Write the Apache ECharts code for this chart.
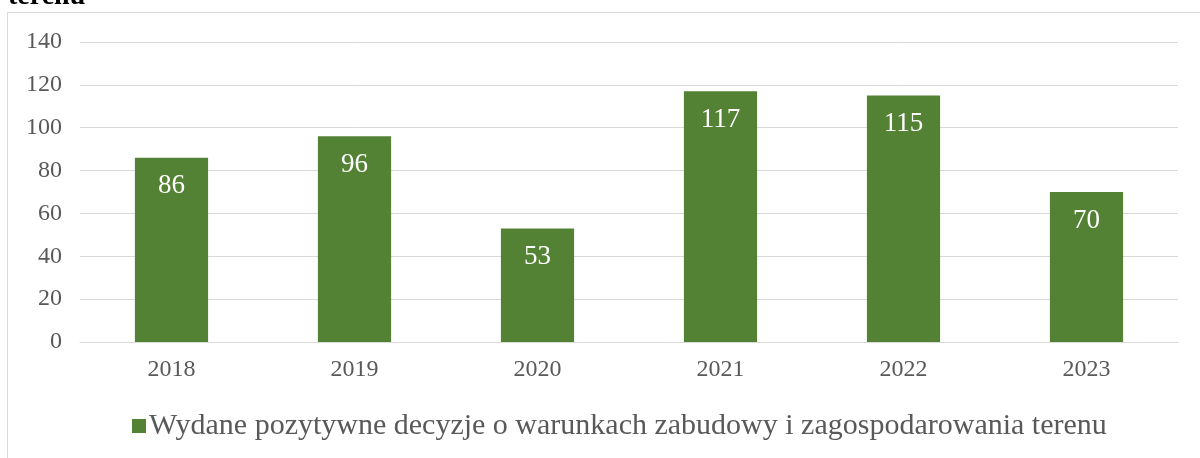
<!DOCTYPE html>
<html>
<head>
<meta charset="utf-8">
<script src="https://cdn.jsdelivr.net/npm/echarts@6/dist/echarts.min.js"></script>
<style>
  html, body { margin: 0; padding: 0; background: #fff; }
  #chart { width: 1200px; height: 458px; }
</style>
</head>
<body>
<div id="chart"></div>
<script>
// dane z wykresu
const years = ['2018', '2019', '2020', '2021', '2022', '2023'];
const decisions = [86, 96, 53, 117, 115, 70];
const seriesName = 'Wydane pozytywne decyzje o warunkach zabudowy i zagospodarowania terenu';

const serif = '"Liberation Serif", "Times New Roman", serif';

const chart = echarts.init(document.getElementById('chart'));
chart.setOption({
    animation: false,
    title: {
        text: 'terenu',
        left: 3,
        top: -22,
        textStyle: { fontFamily: serif, fontWeight: 'bold', fontSize: 28, color: '#000' }
    },
    graphic: [{
        type: 'rect',
        shape: { x: 7.5, y: 12.5, width: 1200, height: 460 },
        style: { fill: 'none', stroke: '#d9d9d9', lineWidth: 1 },
        z: -1
    }],
    grid: { left: 80, right: 22, top: 42, bottom: 116 },
    legend: {
        top: 406,
        left: 127,
        itemWidth: 14,
        itemHeight: 14,
        itemGap: 4,
        icon: 'rect',
        textStyle: { fontFamily: serif, fontSize: 30, color: '#595959', padding: [0, 0, 0, -2] },
        data: [seriesName]
    },
    xAxis: {
        type: 'category',
        data: years,
        axisLine: { lineStyle: { color: '#d9d9d9', width: 1 } },
        axisTick: { show: false },
        axisLabel: { fontFamily: serif, fontSize: 24, color: '#595959', margin: 16 }
    },
    yAxis: {
        type: 'value',
        min: 0,
        max: 140,
        interval: 20,
        axisLine: { show: false },
        axisTick: { show: false },
        splitLine: { lineStyle: { color: '#d9d9d9', width: 1 } },
        axisLabel: { fontFamily: serif, fontSize: 24, color: '#595959', margin: 18 }
    },
    series: [{
        name: seriesName,
        type: 'bar',
        data: decisions,
        barCategoryGap: '60%',
        itemStyle: { color: '#548235' },
        label: {
            show: true,
            position: 'insideTop',
            distance: 15,
            fontFamily: serif,
            fontSize: 27,
            color: '#fff'
        }
    }]
});
</script>
</body>
</html>
